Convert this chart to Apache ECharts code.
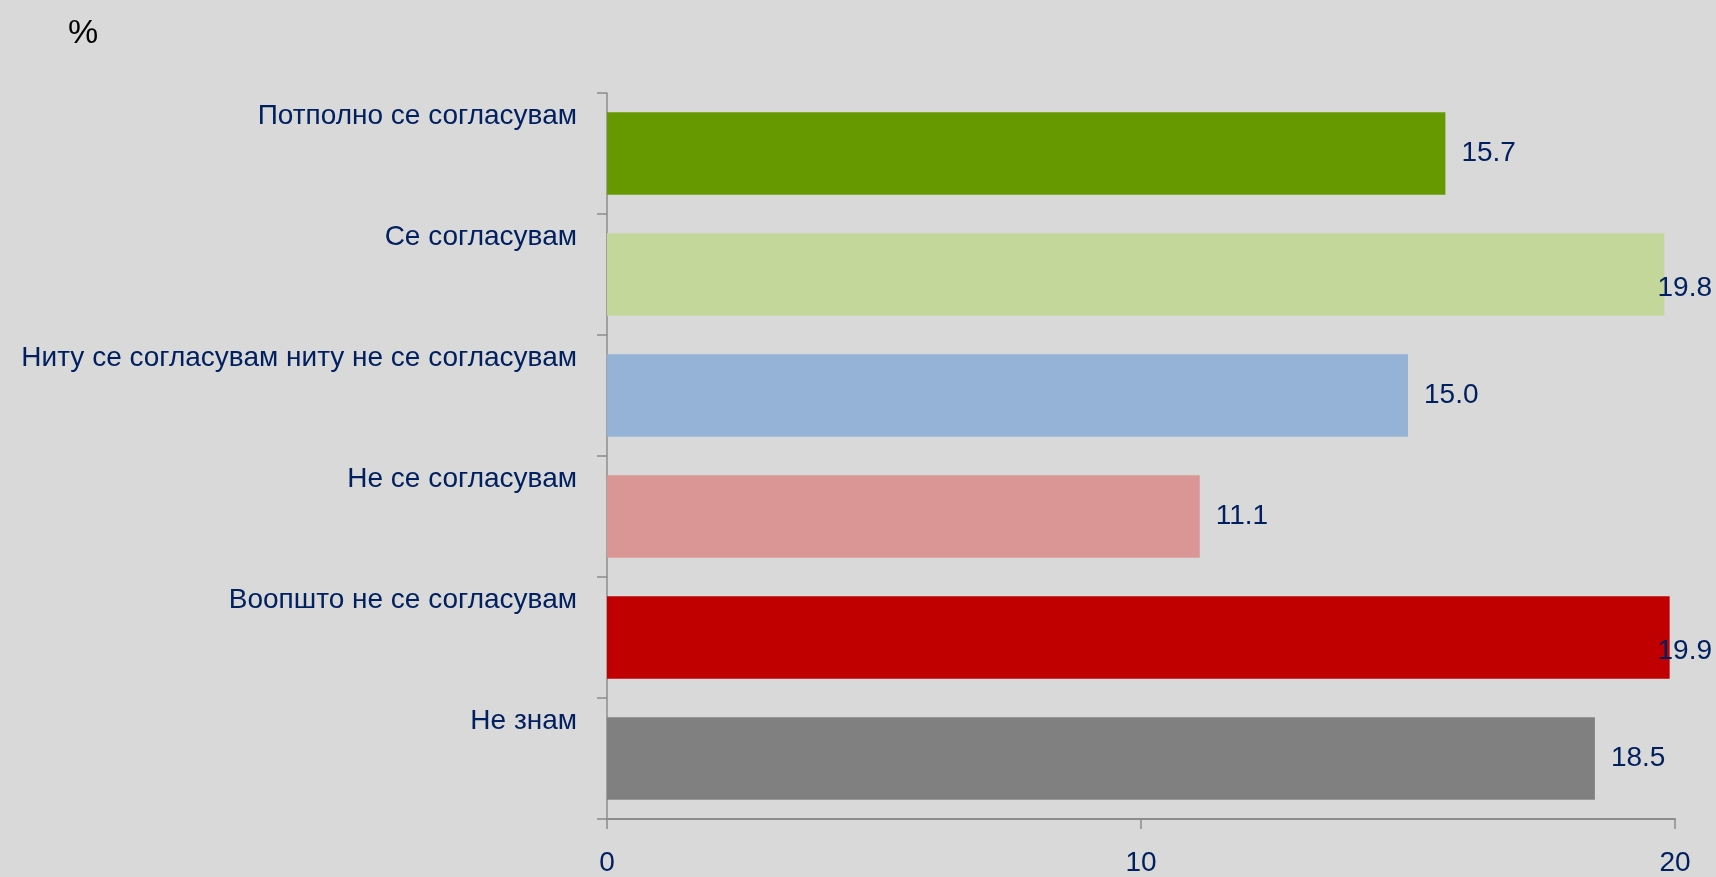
<!DOCTYPE html>
<html>
<head>
<meta charset="utf-8">
<script src="https://cdn.jsdelivr.net/npm/echarts@6/dist/echarts.min.js"></script>
<style>
html,body{margin:0;padding:0;background:#d9d9d9;}
#chart{width:1716px;height:877px;}
</style>
</head>
<body>
<div id="chart"></div>
<script>
const categories = [
  'Потполно се согласувам',
  'Се согласувам',
  'Ниту се согласувам ниту не се согласувам',
  'Не се согласувам',
  'Воопшто не се согласувам',
  'Не знам'
];
const values = [15.7, 19.8, 15.0, 11.1, 19.9, 18.5];
const barColors = ['#669900', '#c4d79b', '#95b3d7', '#da9694', '#c00000', '#808080'];
const xTicks = [0, 10, 20];
const unitLabel = '%';

const chart = echarts.init(document.getElementById('chart'));
const FONT = 'Liberation Sans';
const TXT = '#002060';
chart.setOption({
  backgroundColor: '#d9d9d9',
  animation: false,
  title: {
    text: unitLabel, left: 63, top: 12,
    textStyle: {fontFamily: FONT, fontSize: 34, fontWeight: 'normal', color: '#000'}
  },
  grid: {left: 607, right: 41, top: 93, bottom: 55, containLabel: false},
  xAxis: {
    type: 'value', min: xTicks[0], max: xTicks[xTicks.length - 1], interval: 10,
    axisLine: {show: true, lineStyle: {color: '#8c8c8c', width: 2}},
    axisTick: {show: true, length: 10, lineStyle: {color: '#8c8c8c', width: 1.5}},
    splitLine: {show: false},
    axisLabel: {fontFamily: FONT, fontSize: 28, color: TXT, margin: 30}
  },
  yAxis: {
    type: 'category', data: categories, inverse: true,
    axisLine: {show: true, lineStyle: {color: '#8c8c8c', width: 1.5}},
    axisTick: {show: true, length: 10, lineStyle: {color: '#8c8c8c', width: 1.5}},
    axisLabel: {fontFamily: FONT, fontSize: 28, color: TXT, margin: 30,
      verticalAlign: 'bottom', lineHeight: 74}
  },
  series: [{
    type: 'bar',
    barCategoryGap: '32%',
    data: values.map((v, i) => ({value: v, itemStyle: {color: barColors[i]}})),
    label: {
      show: true, position: 'right', distance: 16,
      fontFamily: FONT, fontSize: 28, color: TXT,
      formatter: p => p.value.toFixed(1)
    },
    labelLayout: function (params) {
      const r = params.labelRect;
      const maxRight = chart.getWidth() - 4;
      if (r.x + r.width > maxRight) {
        return {x: maxRight - r.width, align: 'left'};
      }
      return {};
    }
  }]
});
</script>
</body>
</html>
